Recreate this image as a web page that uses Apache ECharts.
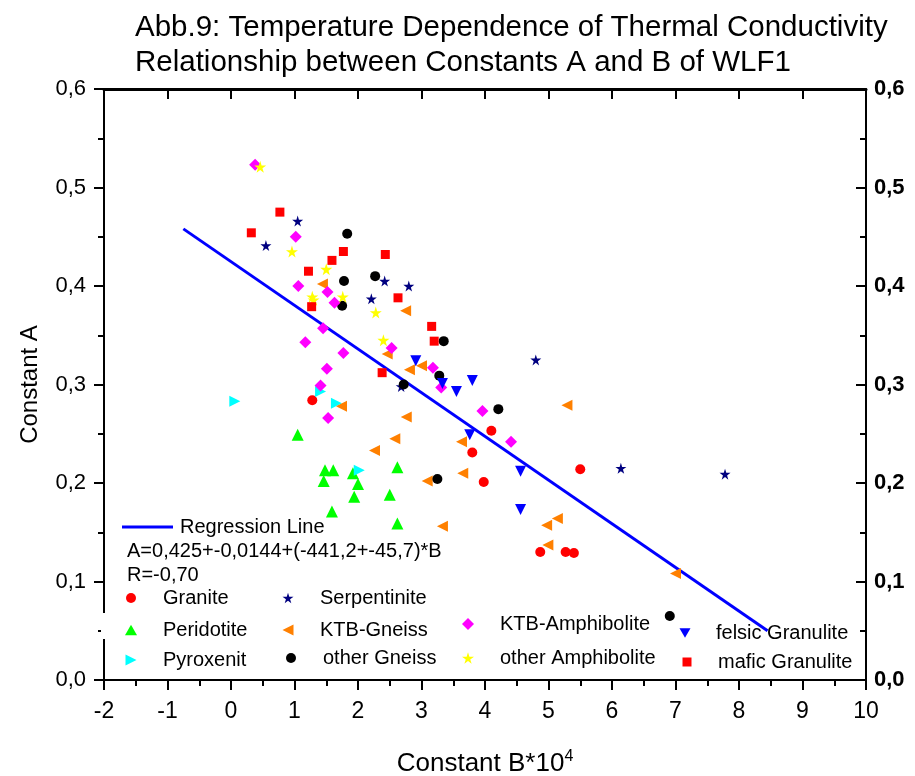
<!DOCTYPE html>
<html><head><meta charset="utf-8">
<script src="https://cdn.jsdelivr.net/npm/echarts@6/dist/echarts.min.js"></script>
<style>html,body{margin:0;padding:0;background:#fff}#c{width:915px;height:776px}</style>
</head><body><div id="c"></div>
<script>
// ---- data (x = Constant B*10^4, y = Constant A) ----
const granite = [[1.28,0.284],[3.80,0.231],[4.10,0.253],[3.98,0.201],[5.50,0.214],[4.87,0.130],[5.27,0.130],[5.40,0.129]];
const peridotite = [[1.05,0.249],[1.48,0.213],[1.61,0.213],[1.92,0.210],[1.46,0.202],[2.00,0.199],[1.94,0.186],[2.50,0.188],[2.62,0.216],[1.59,0.171],[2.62,0.159]];
const pyroxenit = [[0.06,0.283],[1.41,0.293],[1.66,0.281],[2.02,0.213]];
const serpentinite = [[1.05,0.466],[0.55,0.441],[2.42,0.405],[2.80,0.400],[2.21,0.387],[2.68,0.298],[4.80,0.325],[6.14,0.215],[7.78,0.209]];
const ktbGneiss = [[1.44,0.402],[2.75,0.375],[2.46,0.331],[2.81,0.315],[3.00,0.319],[1.74,0.278],[2.76,0.267],[2.58,0.245],[2.26,0.233],[3.63,0.242],[3.65,0.210],[3.09,0.202],[5.29,0.279],[3.33,0.156],[5.14,0.164],[4.97,0.157],[4.99,0.137],[7.00,0.108]];
const otherGneiss = [[1.83,0.453],[2.27,0.410],[1.78,0.405],[1.75,0.380],[3.35,0.344],[3.28,0.309],[2.72,0.300],[4.21,0.275],[3.25,0.204],[6.91,0.065]];
const ktbAmphibolite = [[0.38,0.523],[1.02,0.450],[1.06,0.400],[1.52,0.394],[1.63,0.383],[1.45,0.357],[1.17,0.343],[1.77,0.332],[2.53,0.337],[1.51,0.316],[1.41,0.299],[1.53,0.266],[3.18,0.317],[3.31,0.297],[3.96,0.273],[4.41,0.242]];
const otherAmphibolite = [[0.46,0.521],[0.96,0.435],[1.50,0.417],[1.28,0.389],[1.30,0.386],[1.76,0.389],[2.28,0.373],[2.40,0.345]];
const felsicGranulite = [[2.91,0.324],[3.33,0.301],[3.80,0.304],[3.55,0.293],[3.76,0.249],[4.56,0.212],[4.56,0.173]];
const maficGranulite = [[0.77,0.475],[0.32,0.454],[1.77,0.435],[1.59,0.426],[2.43,0.432],[1.22,0.415],[2.63,0.388],[1.27,0.379],[3.16,0.359],[3.20,0.344],[2.38,0.312]];
const regressionLine = [[-0.75,0.458],[8.45,0.050]];
const xTicks = {min:-2, max:10, interval:1};
const yTicks = {min:0, max:0.6, interval:0.1};
const titleLines = ['Abb.9: Temperature Dependence of Thermal Conductivity','Relationship between Constants A and B of WLF1'];
const equationText = 'A=0,425+-0,0144+(-441,2+-45,7)*B';
const rText = 'R=-0,70';

// ---- styling ----
const FONT = 'Liberation Sans';
const STAR = 'path://M50,0 L61,35 L98,35 L68,57 L79,91 L50,70 L21,91 L32,57 L2,35 L39,35 Z';
const LEFT_TRI = 'path://M0,50 L100,0 L100,100 Z';
const RIGHT_TRI = 'path://M100,50 L0,0 L0,100 Z';
const DOWN_TRI = 'path://M0,0 L100,0 L50,87 Z';
const UP_TRI = 'path://M50,0 L100,87 L0,87 Z';

const defs = [
  {name:'Granite', data:granite, color:'#ff0000', symbol:'circle', size:10, icon:[131,163,598]},
  {name:'Peridotite', data:peridotite, color:'#00ff00', symbol:UP_TRI, size:12, icon:[131,163,630]},
  {name:'Pyroxenit', data:pyroxenit, color:'#00ffff', symbol:RIGHT_TRI, size:11, icon:[131,163,660]},
  {name:'Serpentinite', data:serpentinite, color:'#000080', symbol:STAR, size:11, icon:[288,320,598]},
  {name:'KTB-Gneiss', data:ktbGneiss, color:'#ff8000', symbol:LEFT_TRI, size:11, icon:[288,320,630]},
  {name:'other Gneiss', data:otherGneiss, color:'#000000', symbol:'circle', size:10, icon:[291,323,658]},
  {name:'KTB-Amphibolite', data:ktbAmphibolite, color:'#ff00ff', symbol:'diamond', size:12, icon:[468,500,624]},
  {name:'other Amphibolite', data:otherAmphibolite, color:'#ffff00', symbol:STAR, size:12, icon:[468,500,658]},
  {name:'felsic Granulite', data:felsicGranulite, color:'#0000ff', symbol:DOWN_TRI, size:11, icon:[685,716,633]},
  {name:'mafic Granulite', data:maficGranulite, color:'#ff0000', symbol:'rect', size:9, icon:[687,718,662]}
];

const series = [{
  name:'Regression Line', type:'line', data:regressionLine, showSymbol:false, symbol:'none',
  lineStyle:{color:'#0000ff', width:3}, itemStyle:{color:'#0000ff'}, z:1, silent:true, animation:false
}];
defs.forEach(d => series.push({
  name:d.name, type:'scatter', data:d.data, symbol:d.symbol, symbolSize:d.size,
  itemStyle:{color:d.color, opacity:1}, z:3, animation:false
}));

const LFS = 20;
const legends = [{
  data:[{name:'Regression Line', icon:'rect'}], left:122, top:527-12, itemWidth:51, itemHeight:3, padding:0,
  itemStyle:{color:'#0000ff'},
  textStyle:{fontFamily:FONT, fontSize:LFS, color:'#000', lineHeight:24, padding:[0,0,0,2]}, selectedMode:false
}];
defs.forEach(d => {
  const [cx, tx, cy] = d.icon;
  const s = d.size;
  legends.push({
    data:[{name:d.name, icon:d.symbol}], left:cx - s/2, top:cy-12, itemWidth:s, itemHeight:s, padding:0,
    textStyle:{fontFamily:FONT, fontSize:LFS, color:'#000', lineHeight:24, padding:[0,0,0, tx-(cx+s/2)-5]},
    selectedMode:false
  });
});

const yFmt = v => (+v).toFixed(1).replace('.', ',');
const axisLine = {show:true, onZero:false, lineStyle:{color:'#000', width:2}};

const option = {
  backgroundColor:'#fff',
  animation:false,
  textStyle:{fontFamily:FONT},
  title:{
    text:titleLines.join('\n'), left:130, top:5,
    textStyle:{fontFamily:FONT, fontSize:29.5, fontWeight:'normal', color:'#000', lineHeight:35}
  },
  grid:{left:104, top:89, width:762, height:591, containLabel:false, outerBoundsMode:'none'},
  xAxis:[{
    type:'value', position:'bottom', min:xTicks.min, max:xTicks.max, interval:xTicks.interval,
    axisLine, splitLine:{show:false},
    axisTick:{show:true, inside:false, length:10, lineStyle:{width:2, color:'#000'}},
    minorTick:{show:true, splitNumber:2, length:6, lineStyle:{width:2, color:'#000'}},
    axisLabel:{fontFamily:FONT, fontSize:23, color:'#000', margin:20},
    name:'Constant B*10{sup|4}', nameLocation:'middle', nameGap:69,
    nameTextStyle:{fontFamily:FONT, fontSize:26, color:'#000', rich:{sup:{fontFamily:FONT, fontSize:16, verticalAlign:'top', padding:[0,0,14,0], color:'#000'}}}
  },{
    type:'value', position:'top', min:xTicks.min, max:xTicks.max, interval:xTicks.interval,
    axisLine:{show:true, onZero:false, lineStyle:{color:'#000', width:3}}, splitLine:{show:false},
    axisTick:{show:true, inside:true, length:10, lineStyle:{width:2, color:'#000'}},
    minorTick:{show:false},
    axisLabel:{show:false}
  }],
  yAxis:[{
    type:'value', position:'left', min:yTicks.min, max:yTicks.max, interval:yTicks.interval,
    axisLine, splitLine:{show:false},
    axisTick:{show:true, inside:false, length:10, lineStyle:{width:2, color:'#000'}},
    minorTick:{show:true, splitNumber:2, length:6, lineStyle:{width:2, color:'#000'}},
    axisLabel:{fontFamily:FONT, fontSize:22, color:'#000', margin:18, formatter:yFmt},
    name:'Constant A', nameLocation:'middle', nameGap:62, nameRotate:90,
    nameTextStyle:{fontFamily:FONT, fontSize:24, color:'#000'}
  },{
    type:'value', position:'right', min:yTicks.min, max:yTicks.max, interval:yTicks.interval,
    axisLine, splitLine:{show:false},
    axisTick:{show:true, inside:true, length:10, lineStyle:{width:2, color:'#000'}},
    minorTick:{show:true, splitNumber:2, length:6, lineStyle:{width:2, color:'#000'}},
    axisLabel:{fontFamily:FONT, fontSize:22, fontWeight:'bold', color:'#000', margin:8, formatter:yFmt}
  }],
  legend:legends,
  graphic:[
    {type:'text', left:127, top:553-12, style:{text:equationText, font:LFS+'px "Liberation Sans"', fill:'#000'}},
    {type:'text', left:127, top:577-12, style:{text:rText, font:LFS+'px "Liberation Sans"', fill:'#000'}},
    {type:'rect', left:101, top:613, shape:{width:8, height:26}, style:{fill:'#fff'}, z:100}
  ],
  series
};
const chart = echarts.init(document.getElementById('c'));
chart.setOption(option);
</script></body></html>
